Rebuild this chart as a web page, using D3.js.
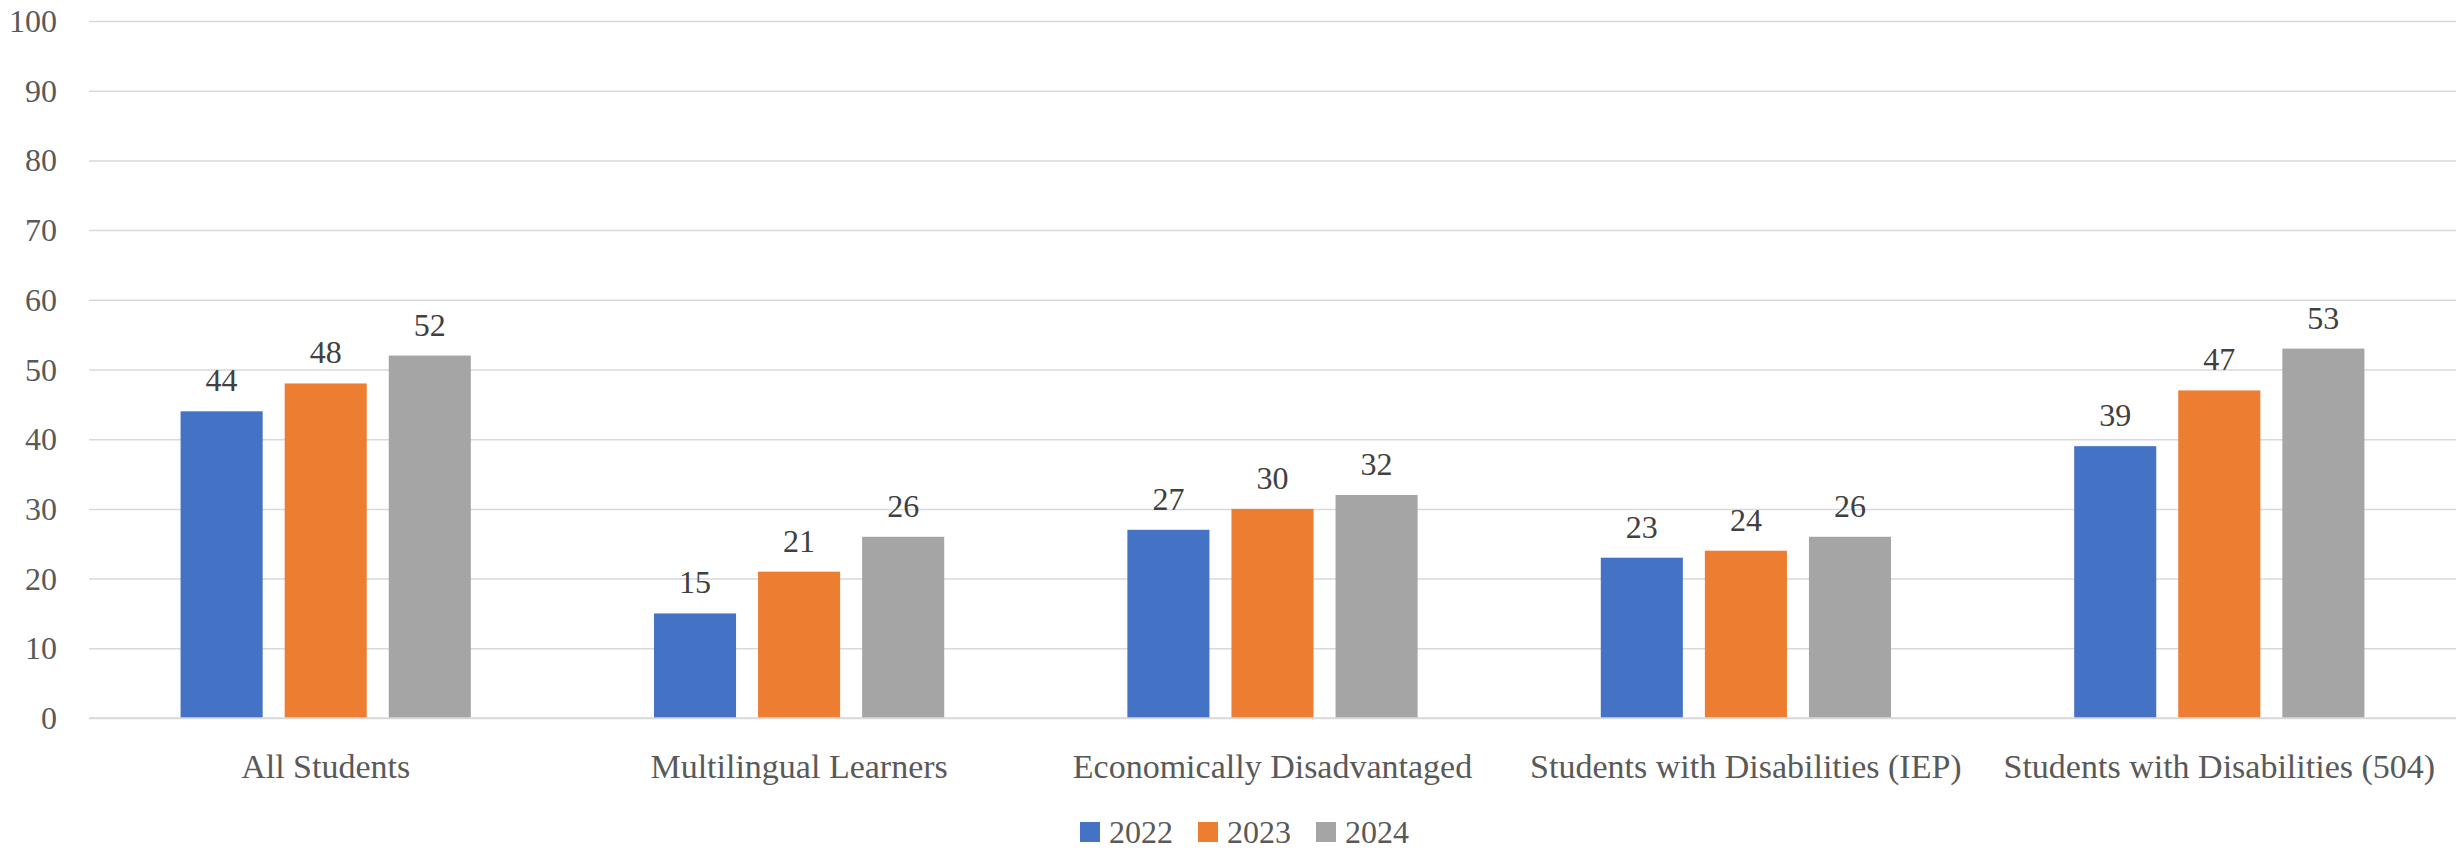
<!DOCTYPE html>
<html>
<head>
<meta charset="utf-8">
<script src="https://cdn.jsdelivr.net/npm/d3@7"></script>
<style>
  html, body { margin: 0; padding: 0; background: #fff; }
  svg { display: block; }
  text { font-family: "Liberation Serif", "Times New Roman", serif; }
</style>
</head>
<body>
<svg id="chart" width="2458" height="850"></svg>
<script>
const categories = ["All Students", "Multilingual Learners", "Economically Disadvantaged", "Students with Disabilities (IEP)", "Students with Disabilities (504)"];
const seriesNames = ["2022", "2023", "2024"];
const values2022 = [44, 15, 27, 23, 39];
const values2023 = [48, 21, 30, 24, 47];
const values2024 = [52, 26, 32, 26, 53];
const yTicks = [0, 10, 20, 30, 40, 50, 60, 70, 80, 90, 100];
const colors = ["#4472C4", "#ED7D31", "#A5A5A5"];

const seriesValues = [values2022, values2023, values2024];

const W = 2458, H = 850;
const margin = { left: 89, right: 2, top: 21, bottom: 132 };
const svg = d3.select("#chart");

const x0 = d3.scaleBand().domain(categories).range([margin.left, W - margin.right]).paddingInner(0).paddingOuter(0);
const x1 = d3.scaleBand().domain(seriesNames).range([0, x0.bandwidth()]).paddingInner(0.2115).paddingOuter(0.88);
const y = d3.scaleLinear().domain([0, 100]).range([H - margin.bottom, margin.top]);

// gridlines
const grid = svg.append("g")
  .attr("transform", `translate(${margin.left},0)`)
  .call(d3.axisLeft(y).tickValues(yTicks).tickSize(-(W - margin.left - margin.right)).tickFormat(""));
grid.select(".domain").remove();
grid.selectAll(".tick line").attr("stroke", "#d9d9d9").attr("stroke-width", 1.5);

// y tick labels
const yAxis = svg.append("g")
  .attr("transform", `translate(57,0)`)
  .call(d3.axisLeft(y).tickValues(yTicks).tickSize(0).tickPadding(0));
yAxis.select(".domain").remove();
yAxis.selectAll("text")
  .attr("font-family", "Liberation Serif")
  .attr("font-size", 32)
  .attr("fill", "#595959")
  .attr("dy", "0.33em");

// bars
const data = categories.map((c, i) => ({ cat: c, vals: seriesNames.map((s, j) => ({ s, j, v: seriesValues[j][i] })) }));
const groups = svg.append("g").selectAll("g").data(data).join("g")
  .attr("transform", d => `translate(${x0(d.cat)},0)`);
groups.selectAll("rect").data(d => d.vals).join("rect")
  .attr("x", d => x1(d.s))
  .attr("width", x1.bandwidth())
  .attr("y", d => y(d.v))
  .attr("height", d => y(0) - y(d.v))
  .attr("fill", d => colors[d.j]);
groups.selectAll("text").data(d => d.vals).join("text")
  .attr("x", d => x1(d.s) + x1.bandwidth() / 2)
  .attr("y", d => y(d.v) - 20)
  .attr("text-anchor", "middle")
  .attr("font-size", 32)
  .attr("fill", "#404040")
  .text(d => d.v);

// x axis line redraw (baseline)
svg.append("line")
  .attr("x1", margin.left).attr("x2", W - margin.right)
  .attr("y1", y(0)).attr("y2", y(0))
  .attr("stroke", "#d9d9d9").attr("stroke-width", 1.5);

// category labels
const xAxis = svg.append("g")
  .attr("transform", `translate(0,${y(0)})`)
  .call(d3.axisBottom(x0).tickSize(0).tickPadding(0));
xAxis.select(".domain").remove();
xAxis.selectAll("text")
  .attr("font-family", "Liberation Serif")
  .attr("font-size", 34)
  .attr("fill", "#595959")
  .attr("dy", null)
  .attr("y", 60);

// legend
const legendX = [1080, 1198, 1316];
const legend = svg.append("g").selectAll("g").data(seriesNames).join("g")
  .attr("transform", (d, i) => `translate(${legendX[i]},822)`);
legend.append("rect").attr("width", 20).attr("height", 20).attr("fill", (d, i) => colors[i]);
legend.append("text").attr("x", 29).attr("y", 21)
  .attr("font-size", 32).attr("fill", "#595959").text(d => d);
</script>
</body>
</html>
